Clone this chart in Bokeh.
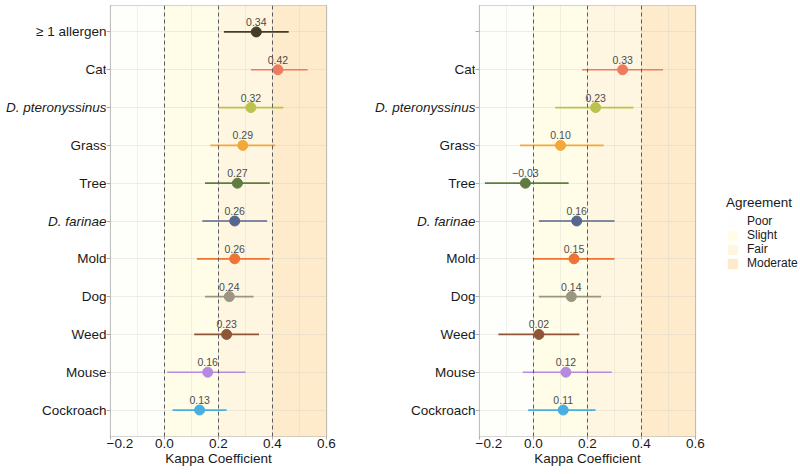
from bokeh.plotting import figure
from bokeh.models import (FactorRange, Range1d, FixedTicker, Span, Legend,
                          LegendItem, ColumnDataSource, CustomJSTickFormatter)
from bokeh.layouts import row
from bokeh.embed import file_html
from bokeh.resources import INLINE
from bokeh.core.properties import value

FONT = "Liberation Sans"

# ---------------- data ----------------
categories = ["≥ 1 allergen", "Cat", "D. pteronyssinus", "Grass", "Tree", "D. farinae",
              "Mold", "Dog", "Weed", "Mouse", "Cockroach"]
italic_categories = ["D. pteronyssinus", "D. farinae"]
category_colors = ["#433D27", "#F07A5E", "#BBC24E", "#F2A83A", "#5E7D3F", "#56678F",
                   "#EE7334", "#9A9682", "#8E5636", "#B58BDF", "#48AFE0"]

left_kappa = [0.34, 0.42, 0.32, 0.29, 0.27, 0.26, 0.26, 0.24, 0.23, 0.16, 0.13]
left_lower = [0.22, 0.32, 0.20, 0.17, 0.15, 0.14, 0.12, 0.15, 0.11, 0.01, 0.03]
left_upper = [0.46, 0.53, 0.44, 0.41, 0.39, 0.38, 0.39, 0.33, 0.35, 0.30, 0.23]

right_categories = categories[1:]
right_colors = category_colors[1:]
right_kappa = [0.33, 0.23, 0.10, -0.03, 0.16, 0.15, 0.14, 0.02, 0.12, 0.11]
right_lower = [0.18, 0.08, -0.05, -0.18, 0.02, 0.00, 0.02, -0.13, -0.04, -0.02]
right_upper = [0.48, 0.37, 0.26, 0.13, 0.30, 0.30, 0.25, 0.17, 0.29, 0.23]
right_unlabelled = ["≥ 1 allergen"]

band_names = ["Poor", "Slight", "Fair", "Moderate"]
band_lower = [-0.2, 0.0, 0.2, 0.4]
band_upper = [0.0, 0.2, 0.4, 0.6]
band_colors = ["#FEFEFB", "#FFFCE8", "#FEF6E0", "#FDEBCB"]

thresholds = [0.0, 0.2, 0.4]
x_ticks = [-0.2, 0.0, 0.2, 0.4, 0.6]
x_minor_ticks = [-0.1, 0.1, 0.3, 0.5]
x_title = "Kappa Coefficient"
legend_title = "Agreement"

TEXT_COLOR = "#1A1A1A"
HEIGHT = 474
TOP = 5
BOTTOM = 38

y_range = FactorRange(factors=list(reversed(categories)),
                      range_padding=0.2, range_padding_units="absolute")


def fmt(v):
    return f"{v:.2f}".replace("-", "\u2212")


def label_column(width, blank):
    """Narrow figure holding the category labels (some italic) next to a panel."""
    p = figure(x_range=Range1d(0, 1), y_range=y_range,
               frame_width=width, height=HEIGHT,
               min_border_left=0, min_border_right=0,
               min_border_top=TOP, min_border_bottom=BOTTOM,
               x_axis_location=None, y_axis_location=None,
               output_backend="svg", toolbar_location=None,
               background_fill_color="white", border_fill_color="white")
    p.outline_line_color = None
    p.grid.visible = False
    shown = [c for c in categories if c not in blank]
    src = ColumnDataSource(dict(
        cat=shown, name=shown,
        style=["italic" if c in italic_categories else "normal" for c in shown]))
    p.text(x=1, y="cat", text="name", text_font_style="style", source=src,
           text_align="right", text_baseline="middle", text_font=value(FONT),
           text_font_size="13.5px", text_color=TEXT_COLOR)
    return p


def panel(cats, est, lo, hi, cols, border_right, with_legend):
    p = figure(x_range=Range1d(band_lower[0], band_upper[-1]), y_range=y_range,
               frame_width=216, height=HEIGHT,
               min_border_left=4, min_border_right=border_right,
               min_border_top=TOP, min_border_bottom=BOTTOM,
               output_backend="svg", toolbar_location=None,
               background_fill_color="white", border_fill_color="white")

    bands = ColumnDataSource(dict(lo=band_lower, hi=band_upper, color=band_colors))
    band_r = p.quad(left="lo", right="hi", bottom=-1, top=len(categories) + 1,
                    fill_color="color", line_color=None, source=bands, level="image")

    # grid
    p.xgrid.ticker = FixedTicker(ticks=x_ticks, minor_ticks=x_minor_ticks)
    p.xgrid.grid_line_color = "#C8C8C8"
    p.xgrid.grid_line_alpha = 0.35
    p.xgrid.minor_grid_line_color = "#C8C8C8"
    p.xgrid.minor_grid_line_alpha = 0.25
    p.ygrid.grid_line_color = "#C8C8C8"
    p.ygrid.grid_line_alpha = 0.3

    for t in thresholds:
        p.add_layout(Span(location=t, dimension="height", line_color="#5C5C5C",
                          line_dash="4 3", line_width=1))

    src = ColumnDataSource(dict(cat=cats, est=est, lo=lo, hi=hi, color=cols,
                                label=[fmt(v) for v in est]))
    p.segment(x0="lo", x1="hi", y0="cat", y1="cat", line_color="color",
              line_width=1.7, source=src)
    p.scatter(x="est", y="cat", size=10, fill_color="color", line_color="color", source=src)
    p.text(x="est", y="cat", text="label", y_offset=-10, text_align="center",
           text_baseline="middle", text_font=value(FONT), text_font_size="10.5px",
           text_color="#4D4D4D", source=src)

    # frame
    p.outline_line_color = "#ABABAB"
    p.outline_line_width = 1.2

    # x axis
    xa = p.xaxis[0]
    xa.ticker = FixedTicker(ticks=x_ticks)
    xa.formatter = CustomJSTickFormatter(
        code="return (tick < -1e-9 ? '\\u2212' : '') + Math.abs(tick).toFixed(1);")
    xa.axis_label = x_title
    xa.axis_label_text_font = FONT
    xa.axis_label_text_font_size = "13.5px"
    xa.axis_label_text_font_style = "normal"
    xa.axis_label_text_color = TEXT_COLOR
    xa.axis_label_standoff = 0
    xa.major_label_text_font = FONT
    xa.major_label_text_font_size = "13.5px"
    xa.major_label_text_color = TEXT_COLOR
    xa.major_label_standoff = -1
    xa.axis_line_color = None
    xa.major_tick_out = 3
    xa.major_tick_in = 0
    xa.major_tick_line_color = "#ABABAB"
    xa.minor_tick_line_color = None

    # y axis: tick marks only (labels live in the label column)
    ya = p.yaxis[0]
    ya.formatter = CustomJSTickFormatter(code="return '';")
    ya.major_label_text_color = None
    ya.major_label_standoff = 0
    ya.axis_line_color = None
    ya.major_tick_out = 4
    ya.major_tick_in = 0
    ya.major_tick_line_color = "#ABABAB"

    if with_legend:
        legend = Legend(items=[LegendItem(label=n, renderers=[band_r], index=i)
                               for i, n in enumerate(band_names)],
                        title=legend_title, location=(31, 166),
                        title_text_font=FONT, title_text_font_size="13.5px",
                        title_text_font_style="normal", title_text_color=TEXT_COLOR,
                        title_standoff=4,
                        label_text_font=FONT, label_text_font_size="12px",
                        label_text_color=TEXT_COLOR,
                        glyph_width=13, glyph_height=13, label_height=13,
                        label_standoff=8, spacing=0, padding=0, margin=0,
                        border_line_color=None, background_fill_alpha=0)
        p.add_layout(legend, "right")
    return p


labels_left = label_column(106, [])
left = panel(categories, left_kappa, left_lower, left_upper, category_colors, 12, False)
labels_right = label_column(137, right_unlabelled)
right = panel(right_categories, right_kappa, right_lower, right_upper, right_colors, 105, True)

layout = row(labels_left, left, labels_right, right)
open("out.html", "w").write(file_html(layout, INLINE))
